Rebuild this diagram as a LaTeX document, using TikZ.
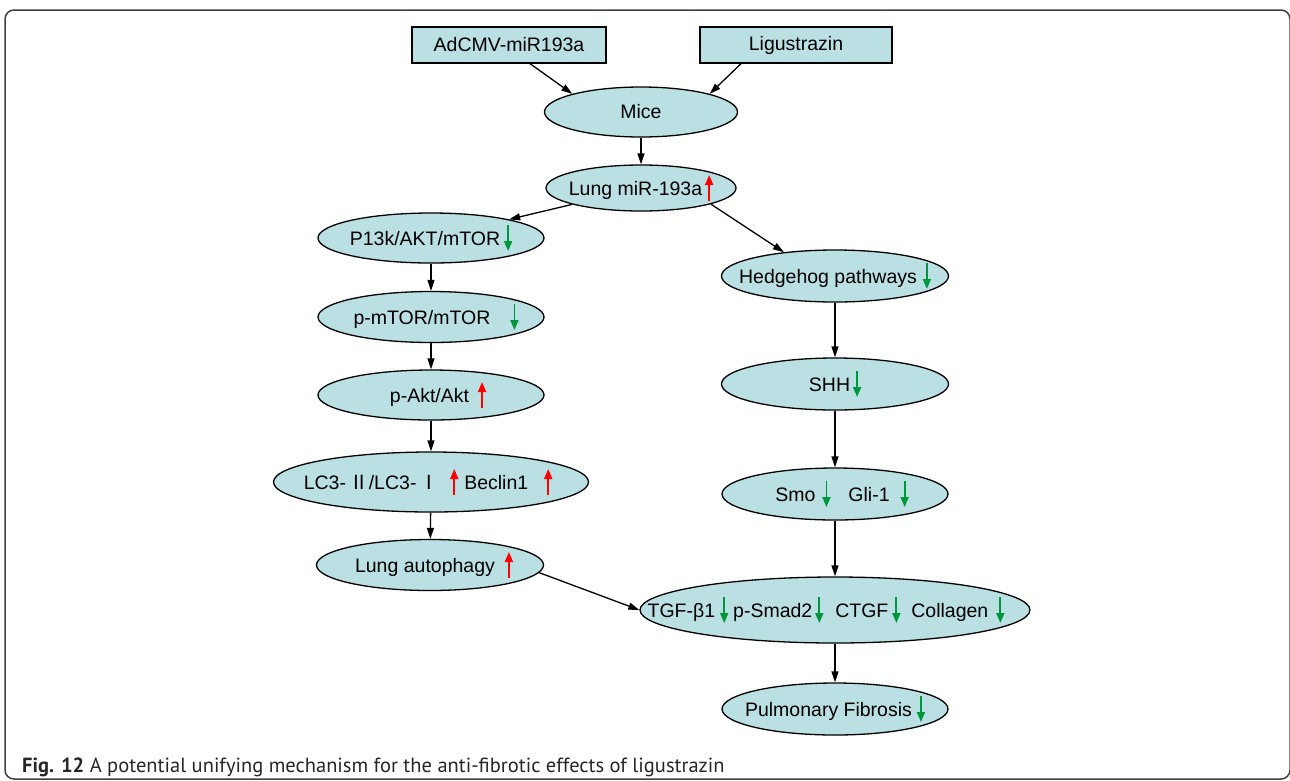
\documentclass[tikz,border=0pt]{standalone}
\usepackage{fontspec}
\setmainfont{Liberation Sans}
\newfontfamily\capfont{PT Sans}
\newfontfamily\cjk{Noto Sans CJK SC}
\usetikzlibrary{shapes.geometric,arrows.meta}

\definecolor{nodefill}{RGB}{186,224,227}
\definecolor{upred}{RGB}{255,0,0}
\definecolor{downgreen}{RGB}{0,150,60}

% small up / down markers inside the labels
\newcommand{\incr}{\tikz[baseline]\draw[upred,line width=1.8pt,-{Triangle[length=10pt,width=8pt]}] (0,-6pt) -- (0,20pt);}
\newcommand{\decr}{\tikz[baseline]\draw[downgreen,line width=1.8pt,-{Triangle[length=10pt,width=8pt]}] (0,20pt) -- (0,-6pt);}

\tikzset{
    box/.style={draw,fill=nodefill,line width=1.3pt,inner sep=0pt,minimum width=194pt,minimum height=36pt},
    oval/.style={ellipse,draw,fill=nodefill,line width=1.3pt,inner sep=0pt},
    arr/.style={-{Triangle[length=11pt,width=7pt]},line width=1.3pt},
}

\begin{document}
\begin{tikzpicture}[x=1pt,y=-1pt,font=\fontsize{19.5}{23}\selectfont]
    \useasboundingbox (0,0) rectangle (1290,780);
    \draw[line width=1.5pt,black!75,rounded corners=9pt] (5,10) rectangle (1290,779);

    \node[box] (adcmv) at (509,45) {AdCMV-miR193a};
    \node[box,minimum width=192pt] (ligus) at (796,45) {Ligustrazin};

    \node[oval,minimum width=193pt,minimum height=50pt,label=center:{Mice}] (mice) at (641,112) {};
    \node[oval,minimum width=190pt,minimum height=46pt,label=center:{Lung miR-193a\hspace{3pt}\incr}] (lungmir) at (641,188) {};

    % left branch
    \node[oval,minimum width=226pt,minimum height=50pt,label=center:{P13k/AKT/mTOR\hspace{4pt}\decr}] (pi3k) at (431,238) {};
    \node[oval,minimum width=226pt,minimum height=51pt,label={[xshift=5pt]center:{p-mTOR/mTOR\hspace{20pt}\decr}}] (pmtor) at (431,317) {};
    \node[oval,minimum width=226pt,minimum height=50pt,label={[xshift=7pt]center:{p-Akt/Akt\hspace{9pt}\incr}}] (pakt) at (431,395) {};
    \node[oval,minimum width=315pt,minimum height=60pt,label={[xshift=-3pt]center:{LC3-\,{\cjk Ⅱ}/LC3-\,{\cjk Ⅰ}\hspace{11pt}\incr\hspace{6pt}Beclin1\hspace{16pt}\incr}}] (lc3) at (431,482) {};
    \node[oval,minimum width=227pt,minimum height=51pt,label={[xshift=4pt]center:{Lung autophagy\hspace{10pt}\incr}}] (autoph) at (430,565) {};

    % right branch
    \node[oval,minimum width=227pt,minimum height=52pt,label=center:{Hedgehog pathways\hspace{6pt}\decr}] (hedge) at (835,276) {};
    \node[oval,minimum width=227pt,minimum height=52pt,label=center:{SHH\hspace{3pt}\decr}] (shh) at (835,384) {};
    \node[oval,minimum width=226pt,minimum height=52pt,label={[xshift=7pt]center:{Smo\hspace{7pt}\decr\hspace{18pt}Gli-1\hspace{11pt}\decr}}] (smo) at (835,494) {};
    \node[oval,minimum width=390pt,minimum height=66pt,label={[xshift=-9pt]center:{TGF-β1\hspace{5pt}\decr\hspace{5pt}p-Smad2\hspace{3pt}\decr\hspace{12pt}CTGF\hspace{4pt}\decr\hspace{11pt}Collagen\hspace{8pt}\decr}}] (tgf) at (835,610) {};
    \node[oval,minimum width=226pt,minimum height=52pt,label=center:{Pulmonary Fibrosis\hspace{5pt}\decr}] (pulm) at (835,709) {};

    \draw[arr] ([xshift=21pt]adcmv.south) -- (mice.north west);
    \draw[arr] ([xshift=-55pt]ligus.south) -- (mice.north east);
    \draw[arr] (mice) -- (lungmir);
    \draw[arr] (lungmir) -- (pi3k);
    \draw[arr] (lungmir.-13) -- (hedge.155);
    \draw[arr] (pi3k) -- (pmtor);
    \draw[arr] (pmtor) -- (pakt);
    \draw[arr] (pakt) -- (lc3);
    \draw[arr] (lc3) -- (autoph);
    \draw[arr] (hedge) -- (shh);
    \draw[arr] (shh) -- (smo);
    \draw[arr] (smo) -- (tgf);
    \draw[arr] (tgf) -- (pulm);
    \draw[arr] (autoph.-4) -- (tgf.west);

    \node[anchor=base west,font=\capfont\fontsize{20.5}{24}\selectfont,text=black!85,inner sep=0pt] (caption) at (22,772)
        {\textbf{Fig. 12} A potential unifying mechanism for the anti-fibrotic effects of ligustrazin};
\end{tikzpicture}
\end{document}
